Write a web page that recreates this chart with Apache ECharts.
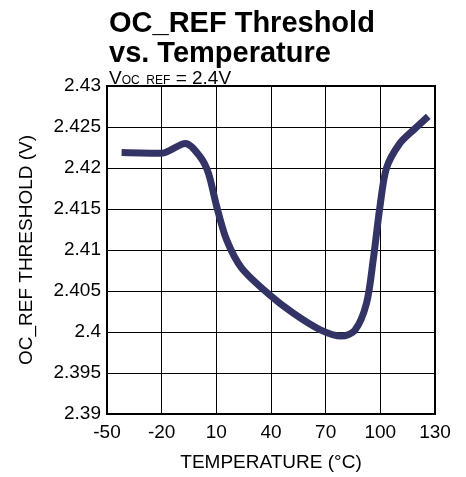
<!DOCTYPE html>
<html><head><meta charset="utf-8">
<script src="https://cdn.jsdelivr.net/npm/echarts@6/dist/echarts.min.js"></script>
<style>html,body{margin:0;padding:0;background:#fff}#c{width:466px;height:477px}</style>
</head><body><div id="c"></div>
<script>
const temps = [-42, -20, -7, 1, 5.6, 10.2, 15.7, 23.9, 39.4, 52.2, 66.8, 78.7, 86, 92.4, 96.1, 99.8, 103.4, 110.7, 119, 126.3];
const threshold = [2.4219, 2.4218, 2.4230, 2.4214, 2.4194, 2.4153, 2.4112, 2.4078, 2.4045, 2.4023, 2.4003, 2.3995, 2.4002, 2.4035, 2.4088, 2.4153, 2.4200, 2.4230, 2.4248, 2.4263];
const xTicks = [-50, -20, 10, 40, 70, 100, 130];
const yTickLabels = ['2.39', '2.395', '2.4', '2.405', '2.41', '2.415', '2.42', '2.425', '2.43'];

const font = 'Liberation Sans, Arial, sans-serif';
const chart = echarts.init(document.getElementById('c'), null, {renderer: 'canvas'});
chart.setOption({
  animation: false,
  title: [
    {text: 'OC_REF Threshold\nvs. Temperature', left: 104, top: 4,
     textStyle: {fontFamily: font, fontWeight: 'bold', fontSize: 29, color: '#000', lineHeight: 30}},
    {text: '{v|V}{s|OC_REF}{v| = 2.4V}', left: 104, top: 62,
     textStyle: {fontWeight: 'normal', rich: {
       v: {fontFamily: font, fontSize: 19, fontWeight: 'normal', color: '#000', lineHeight: 21, verticalAlign: 'bottom'},
       s: {fontFamily: font, fontSize: 12, fontWeight: 'normal', color: '#000', lineHeight: 21, verticalAlign: 'bottom', padding: [0, 0, 1, 0]}
     }}}
  ],
  grid: {left: 107, right: 31, top: 86, bottom: 63, show: true, borderColor: '#000', borderWidth: 2, backgroundColor: 'transparent'},
  xAxis: {
    type: 'value', min: -50, max: 130, interval: 30,
    name: 'TEMPERATURE (°C)', nameLocation: 'middle', nameGap: 39,
    nameTextStyle: {fontFamily: font, fontSize: 19, color: '#000'},
    axisLine: {show: true, onZero: false, lineStyle: {color: '#000', width: 2}},
    axisTick: {show: false},
    axisLabel: {fontFamily: font, fontSize: 19, color: '#000', margin: 9,
      formatter: v => xTicks.includes(v) ? String(v) : ''},
    splitLine: {show: true, lineStyle: {color: '#000', width: 1}}
  },
  yAxis: {
    type: 'value', min: 2.39, max: 2.43, interval: 0.005,
    name: 'OC_REF THRESHOLD (V)', nameLocation: 'middle', nameGap: 71, nameRotate: 90,
    nameTextStyle: {fontFamily: font, fontSize: 19, color: '#000'},
    axisLine: {show: true, onZero: false, lineStyle: {color: '#000', width: 2}},
    axisTick: {show: false},
    axisLabel: {fontFamily: font, fontSize: 19, color: '#000', margin: 6,
      formatter: v => { const i = Math.round((v - 2.39) / 0.005); return yTickLabels[i] ?? ''; }},
    splitLine: {show: true, lineStyle: {color: '#000', width: 1}}
  },
  series: [{
    type: 'line', data: temps.map((t, i) => [t, threshold[i]]),
    smooth: 0.3, showSymbol: false,
    lineStyle: {color: '#333366', width: 7, cap: 'butt'}
  }]
});
</script></body></html>
